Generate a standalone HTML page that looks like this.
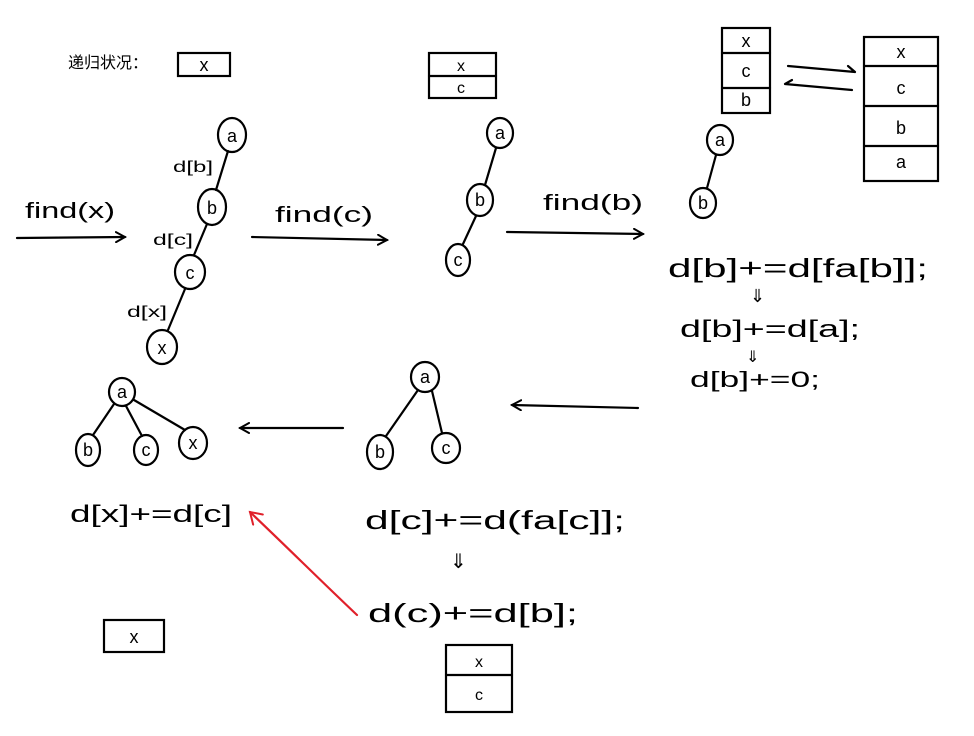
<!DOCTYPE html>
<html><head><meta charset="utf-8"><style>html,body{margin:0;padding:0;background:#fff}svg{display:block}</style></head>
<body>
<svg width="974" height="736" viewBox="0 0 974 736" xmlns="http://www.w3.org/2000/svg" font-family="Liberation Sans, Noto Sans CJK SC, sans-serif" fill="none" stroke="#000" stroke-width="2.2" stroke-linecap="round">
<defs><marker id="ah" markerWidth="12" markerHeight="12" refX="10" refY="6" orient="auto" markerUnits="userSpaceOnUse"><path d="M1,1 L10,6 L1,11" stroke="#000" stroke-width="2" fill="none"/></marker>
<marker id="ahr" markerWidth="16" markerHeight="16" refX="12" refY="8" orient="auto" markerUnits="userSpaceOnUse"><path d="M1,1 L12,8 L1,15" stroke="#e0202a" stroke-width="2" fill="none"/></marker></defs>
<g fill="#000" stroke="none">
<text x="68" y="68" font-size="16">递归状况：</text>
</g>
<rect x="178" y="53" width="52" height="23"/>
<rect x="429" y="53" width="67" height="45"/><line x1="429" y1="76" x2="496" y2="76"/>
<rect x="722" y="28" width="48" height="85"/><line x1="722" y1="53" x2="770" y2="53"/><line x1="722" y1="88" x2="770" y2="88"/>
<rect x="864" y="37" width="74" height="144"/><line x1="864" y1="66" x2="938" y2="66"/><line x1="864" y1="106" x2="938" y2="106"/><line x1="864" y1="146" x2="938" y2="146"/>
<path d="M788,66 L855,72 M848,66 L855,72 M785,84 L852,90 M785,84 L792,80"/>
<line x1="17" y1="238" x2="125" y2="237" marker-end="url(#ah)"/>
<line x1="252" y1="237" x2="387" y2="240" marker-end="url(#ah)"/>
<line x1="507" y1="232" x2="643" y2="234" marker-end="url(#ah)"/>
<line x1="638" y1="408" x2="512" y2="405" marker-end="url(#ah)"/>
<line x1="343" y1="428" x2="240" y2="428" marker-end="url(#ah)"/>
<path d="M357,615 C320,580 290,550 250,512" stroke="#e0202a" marker-end="url(#ahr)"/>
<path d="M228,151 L216,190 M207,224 L194,255 M185,289 L168,330"/>
<ellipse cx="232" cy="135" rx="14" ry="17"/><ellipse cx="212" cy="207" rx="14" ry="18"/><ellipse cx="190" cy="272" rx="15" ry="17"/><ellipse cx="162" cy="347" rx="15" ry="17"/>
<path d="M496,148 L485,185 M476,216 L463,244"/>
<ellipse cx="500" cy="133" rx="13" ry="15"/><ellipse cx="480" cy="200" rx="13" ry="16"/><ellipse cx="458" cy="260" rx="12" ry="16"/>
<path d="M716,155 L707,188"/>
<ellipse cx="720" cy="140" rx="13" ry="15"/><ellipse cx="703" cy="203" rx="13" ry="15"/>
<path d="M418,390 L386,436 M432,391 L442,433"/>
<ellipse cx="425" cy="377" rx="14" ry="15"/><ellipse cx="380" cy="452" rx="13" ry="17"/><ellipse cx="446" cy="448" rx="14" ry="15"/>
<path d="M114,404 L93,435 M126,406 L142,436 M134,400 L185,430"/>
<ellipse cx="122" cy="392" rx="13" ry="14"/><ellipse cx="88" cy="450" rx="12" ry="16"/><ellipse cx="146" cy="450" rx="12" ry="15"/><ellipse cx="193" cy="443" rx="14" ry="16"/>
<rect x="446" y="645" width="66" height="67"/><line x1="446" y1="675" x2="512" y2="675"/>
<rect x="104" y="620" width="60" height="32"/>
<g fill="#000" stroke="none" font-size="18" text-anchor="middle">
<text x="204" y="71">x</text>
<text x="461" y="71" font-size="16">x</text><text x="461" y="93" font-size="16">c</text>
<text x="746" y="47">x</text><text x="746" y="77">c</text><text x="746" y="106">b</text>
<text x="901" y="58">x</text><text x="901" y="94">c</text><text x="901" y="134">b</text><text x="901" y="168">a</text>
<text x="232" y="142">a</text><text x="212" y="214">b</text><text x="190" y="279">c</text><text x="162" y="354">x</text>
<text x="500" y="139">a</text><text x="480" y="206">b</text><text x="458" y="266">c</text>
<text x="720" y="146">a</text><text x="703" y="209">b</text>
<text x="425" y="383">a</text><text x="380" y="458">b</text><text x="446" y="454">c</text>
<text x="122" y="398">a</text><text x="88" y="456">b</text><text x="146" y="456">c</text><text x="193" y="449">x</text>
<text x="479" y="667" font-size="16">x</text><text x="479" y="700" font-size="16">c</text>
<text x="134" y="643">x</text>
</g>
<g fill="#000" stroke="none">
<text x="173" y="172" font-size="16" textLength="40" lengthAdjust="spacingAndGlyphs">d[b]</text>
<text x="153" y="245" font-size="16" textLength="40" lengthAdjust="spacingAndGlyphs">d[c]</text>
<text x="127" y="317" font-size="16" textLength="40" lengthAdjust="spacingAndGlyphs">d[x]</text>
<text x="25" y="218" font-size="22" textLength="90" lengthAdjust="spacingAndGlyphs">find(x)</text>
<text x="275" y="222" font-size="22" textLength="98" lengthAdjust="spacingAndGlyphs">find(c)</text>
<text x="543" y="210" font-size="22" textLength="100" lengthAdjust="spacingAndGlyphs">find(b)</text>
<text x="668" y="277" font-size="26" textLength="260" lengthAdjust="spacingAndGlyphs">d[b]+=d[fa[b]];</text>
<text x="750" y="302" font-size="18">⇓</text>
<text x="680" y="337" font-size="24" textLength="180" lengthAdjust="spacingAndGlyphs">d[b]+=d[a];</text>
<text x="746" y="362" font-size="16">⇓</text>
<text x="690" y="387" font-size="22" textLength="130" lengthAdjust="spacingAndGlyphs">d[b]+=0;</text>
<text x="70" y="522" font-size="24" textLength="162" lengthAdjust="spacingAndGlyphs">d[x]+=d[c]</text>
<text x="365" y="529" font-size="26" textLength="260" lengthAdjust="spacingAndGlyphs">d[c]+=d(fa[c]];</text>
<text x="450" y="568" font-size="20">⇓</text>
<text x="368" y="622" font-size="26" textLength="210" lengthAdjust="spacingAndGlyphs">d(c)+=d[b];</text>
</g>
</svg>
</body></html>
